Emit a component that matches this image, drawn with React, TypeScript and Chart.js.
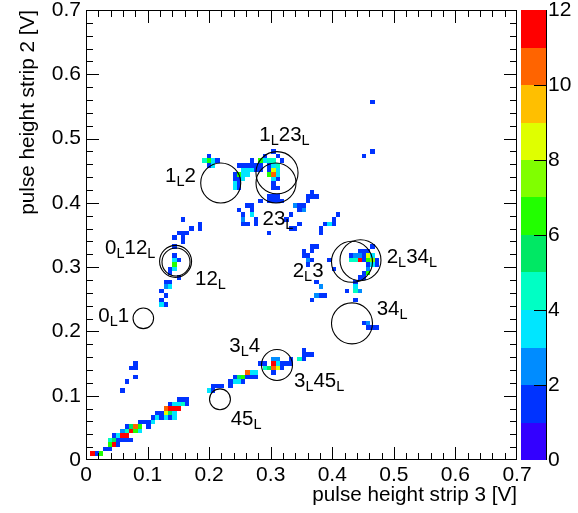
import { useEffect, useRef } from "react";
import { Chart, registerables } from "chart.js";

Chart.register(...registerables);

const FONT = "'Liberation Sans', Arial, Helvetica, sans-serif";

// 2D histogram: 100 x 100 bins over 0..0.7 V, bin width 0.007 V
const BIN = 0.007;
type Cell = [number, number, number]; // [bin index strip 3, bin index strip 2, entries]

const cellsLowBand: Cell[] = [
  [1, 1, 12], [2, 1, 1], [3, 1, 6],
  [4, 2, 1], [5, 2, 1],
  [5, 3, 6], [6, 3, 12], [7, 3, 1], [5, 4, 4], [6, 4, 5], [7, 4, 1],
  [6, 5, 1], [7, 5, 3], [8, 5, 12], [9, 5, 11], [8, 4, 1], [9, 4, 1], [10, 4, 1],
  [8, 6, 2], [9, 6, 4], [10, 6, 12], [11, 6, 6], [12, 6, 3],
  [9, 7, 1], [10, 7, 5], [11, 7, 10], [12, 7, 6],
  [12, 8, 1], [13, 8, 1],
  [14, 7, 1], [14, 8, 1], [15, 8, 3], [15, 9, 1],
  [16, 9, 3], [17, 9, 1], [18, 9, 3], [19, 9, 1], [20, 9, 3],
  [16, 10, 1], [17, 10, 1], [18, 10, 8], [19, 10, 5], [20, 10, 3],
  [18, 11, 10], [19, 11, 12], [20, 11, 12], [21, 11, 11],
  [19, 12, 1], [20, 12, 3], [21, 12, 3], [22, 12, 4], [23, 12, 1],
  [21, 13, 1], [22, 13, 1], [23, 13, 1],
];
const cellsLowIsolated: Cell[] = [
  [8, 15, 1], [9, 17, 1], [11, 18, 1], [10, 20, 1], [11, 20, 1], [11, 21, 1],
];
const cells45: Cell[] = [
  [28, 15, 3], [29, 15, 1], [29, 16, 1], [30, 16, 1], [31, 16, 1],
  [33, 16, 1], [33, 17, 1], [34, 17, 3], [34, 18, 1], [35, 17, 3], [36, 17, 1],
  [35, 18, 5], [36, 18, 6], [37, 18, 1], [38, 18, 1], [37, 19, 10], [38, 19, 3], [39, 19, 3], [39, 18, 1],
];
const cells3L45L: Cell[] = [
  [40, 21, 1], [41, 21, 1], [43, 22, 2], [44, 22, 2], [43, 21, 12], [44, 21, 3], [45, 21, 1], [46, 21, 1],
  [47, 21, 1], [47, 22, 1],
  [41, 20, 4], [42, 20, 5], [43, 20, 10], [44, 20, 8], [45, 20, 1], [43, 19, 1],
  [49, 22, 4], [50, 22, 1], [50, 23, 1], [51, 23, 1], [52, 23, 1], [50, 24, 1],
];
const cells0L12L: Cell[] = [
  [22, 53, 1], [24, 51, 1], [26, 52, 1], [26, 51, 1], [23, 50, 1], [21, 50, 1], [22, 50, 1], [22, 49, 1],
  [20, 49, 1], [22, 48, 1],
  [20, 47, 1], [20, 45, 1], [20, 44, 3], [21, 44, 1], [20, 43, 6], [20, 42, 3], [19, 42, 1], [19, 41, 1],
  [21, 40, 1], [18, 39, 1], [19, 39, 1], [18, 38, 2], [19, 38, 3], [17, 37, 1], [18, 36, 1], [17, 35, 1],
  [17, 34, 3], [18, 34, 1],
];
const cells1L2: Cell[] = [
  [28, 67, 1], [27, 66, 4], [28, 66, 6], [29, 66, 3], [30, 66, 1], [28, 65, 1], [29, 65, 3],
  [34, 63, 1], [34, 62, 1], [34, 61, 3], [35, 61, 1], [34, 60, 3], [35, 60, 1],
  [35, 65, 1], [36, 65, 1], [37, 65, 1], [38, 65, 1], [38, 66, 1], [36, 64, 3], [37, 64, 3], [38, 64, 3],
  [39, 64, 1], [35, 63, 6], [36, 63, 3], [37, 63, 3], [35, 62, 1], [36, 62, 3],
];
const cells1L23L: Cell[] = [
  [43, 68, 1], [40, 66, 6], [41, 66, 3], [42, 66, 4], [43, 66, 4], [44, 67, 1], [45, 66, 1], [41, 67, 1],
  [39, 65, 1], [40, 65, 1], [42, 65, 1], [43, 65, 3], [44, 65, 4],
  [40, 64, 1], [42, 64, 1], [43, 64, 8], [44, 64, 3],
  [42, 63, 6], [43, 63, 10], [44, 63, 3],
  [43, 62, 3], [44, 62, 1], [43, 61, 1], [43, 60, 1], [44, 60, 1],
  [42, 58, 1], [43, 58, 1], [44, 58, 1], [42, 57, 1], [43, 57, 1], [44, 57, 1], [45, 57, 1], [40, 57, 1],
  [37, 56, 1], [38, 56, 1],
];
const cells23L: Cell[] = [
  [35, 55, 1], [38, 55, 1], [36, 54, 1], [38, 54, 3], [36, 53, 2], [39, 53, 1], [39, 52, 1], [36, 52, 1],
  [37, 52, 1], [42, 50, 1],
  [47, 54, 1], [46, 53, 1], [47, 51, 1], [48, 51, 1], [49, 52, 1],
  [48, 56, 2], [49, 56, 1], [50, 56, 1], [49, 55, 1], [50, 55, 2], [51, 57, 1], [51, 58, 1], [52, 59, 1],
  [52, 58, 1], [53, 58, 1],
  [54, 51, 1], [55, 52, 1], [56, 52, 3], [57, 53, 1], [58, 54, 1], [57, 52, 1], [54, 50, 1],
  [66, 79, 1], [66, 68, 1], [64, 67, 1],
];
const cells2L3: Cell[] = [
  [52, 47, 1], [53, 47, 1], [50, 46, 1], [52, 46, 1], [50, 45, 1], [51, 45, 1], [51, 44, 2], [52, 44, 1],
  [51, 43, 1], [56, 44, 1], [57, 42, 1],
  [53, 39, 1], [54, 38, 2], [53, 36, 2], [54, 36, 1], [55, 36, 1], [52, 35, 1],
];
const cells2L34L: Cell[] = [
  [61, 45, 1], [62, 45, 2], [63, 45, 2], [64, 45, 1], [65, 45, 8], [66, 45, 3],
  [61, 44, 4], [62, 44, 4], [63, 44, 12], [64, 44, 1], [65, 44, 6], [66, 44, 7], [67, 44, 1],
  [66, 43, 3], [67, 43, 1], [65, 43, 1], [65, 42, 2],
  [64, 41, 1], [65, 41, 6], [63, 40, 1], [64, 40, 1], [62, 39, 1], [62, 38, 3], [62, 37, 4], [63, 37, 2],
  [60, 37, 1], [62, 35, 1],
  [63, 46, 1], [64, 46, 1], [65, 46, 1], [66, 47, 1],
];
const cells34L: Cell[] = [
  [64, 30, 1], [65, 30, 2], [65, 29, 1], [66, 29, 1], [67, 29, 1],
];

const allCells: Cell[] = [
  ...cellsLowBand, ...cellsLowIsolated, ...cells45, ...cells3L45L, ...cells0L12L,
  ...cells1L2, ...cells1L23L, ...cells23L, ...cells2L3, ...cells2L34L, ...cells34L,
];

// colour palette: 12 contour levels from 0 to 12
const paletteColors = [
  "#3300ff", "#0033ff", "#008cff", "#00e6ff", "#00ffc4", "#00e864",
  "#22ff00", "#80ff00", "#dfff00", "#ffbf00", "#ff6400", "#ff0000",
];
const zMin = 0;
const zMax = 12;
const zTickStep = 2;

// circles (TEllipse): centre and radius in volts
const circleX = [0.2176, 0.3102, 0.0931, 0.1455, 0.1462, 0.2188, 0.3102, 0.3086, 0.4320, 0.4458, 0.4320];
const circleY = [0.0944, 0.1478, 0.2204, 0.3090, 0.3080, 0.4309, 0.4469, 0.4309, 0.3083, 0.3108, 0.2126];
const circleR = [0.0170, 0.0252, 0.0167, 0.0260, 0.0228, 0.0325, 0.0342, 0.0325, 0.0333, 0.0333, 0.0333];

// text labels ("_X" = subscript X), anchored at left/baseline in volts
const labelTexts = ["1_L23_L", "1_L2", "23_L", "0_L12_L", "12_L", "0_L1", "2_L3", "2_L34_L", "34_L", "3_L4", "3_L45_L", "45_L"];
const labelX = [0.2814, 0.1283, 0.2867, 0.0309, 0.1770, 0.0200, 0.3357, 0.4884, 0.4721, 0.2327, 0.3378, 0.2350];
const labelY = [0.4967, 0.4324, 0.3655, 0.3204, 0.2722, 0.2151, 0.2851, 0.3069, 0.2256, 0.1685, 0.1140, 0.0544];

const colorFor = (n: number) => paletteColors[Math.max(0, Math.min(paletteColors.length - 1, Math.floor(n)))];

function drawLatex(ctx: CanvasRenderingContext2D, text: string, x: number, y: number) {
  let cx = x;
  let i = 0;
  ctx.textAlign = "left";
  ctx.textBaseline = "alphabetic";
  ctx.fillStyle = "#000";
  while (i < text.length) {
    if (text[i] === "_") {
      const ch = text[i + 1];
      ctx.font = `14.5px ${FONT}`;
      ctx.fillText(ch, cx, y + 4);
      cx += ctx.measureText(ch).width;
      i += 2;
    } else {
      const ch = text[i];
      ctx.font = `20.5px ${FONT}`;
      ctx.fillText(ch, cx, y);
      cx += ctx.measureText(ch).width;
      i += 1;
    }
  }
}

const cellsPlugin = {
  id: "cells",
  beforeDatasetsDraw(chart: any) {
    const { ctx, chartArea: a, scales } = chart;
    const xs = scales.x;
    const ys = scales.y;
    ctx.save();
    ctx.beginPath();
    ctx.rect(a.left, a.top, a.right - a.left, a.bottom - a.top);
    ctx.clip();
    for (const [i, j, n] of allCells) {
      const x0 = Math.round(xs.getPixelForValue(i * BIN));
      const x1 = Math.round(xs.getPixelForValue((i + 1) * BIN));
      const y0 = Math.round(ys.getPixelForValue(j * BIN));
      const y1 = Math.round(ys.getPixelForValue((j + 1) * BIN));
      ctx.fillStyle = colorFor(n);
      ctx.fillRect(x0, y1, x1 - x0, y0 - y1);
    }
    ctx.restore();
  },
};

const framePlugin = {
  id: "frame",
  afterDatasetsDraw(chart: any) {
    const { ctx, chartArea: a, scales } = chart;
    const xs = scales.x;
    const ys = scales.y;
    const zs = scales.y2;
    ctx.save();
    ctx.fillStyle = "#000";
    const L = Math.round(a.left);
    const R = Math.round(a.right) - 1;
    const T = Math.round(a.top);
    const B = Math.round(a.bottom) - 1;
    // frame
    ctx.fillRect(L, T, R - L + 1, 1);
    ctx.fillRect(L, B, R - L + 1, 1);
    ctx.fillRect(L, T, 1, B - T + 1);
    ctx.fillRect(R, T, 1, B - T + 1);
    // ticks on all four sides
    for (let k = 1; k < 35; k++) {
      const v = k * 0.02;
      const len = k % 5 === 0 ? 13 : 7;
      const px = Math.round(xs.getPixelForValue(v));
      ctx.fillRect(px, B - len + 1, 1, len);
      ctx.fillRect(px, T, 1, len);
      const py = Math.round(ys.getPixelForValue(v));
      ctx.fillRect(L, py, len, 1);
      ctx.fillRect(R - len + 1, py, len, 1);
    }

    // colour bar
    const cx0 = Math.round(a.right) + 4;
    const cx1 = Math.round(a.right) + 29;
    for (let l = 0; l < paletteColors.length; l++) {
      const yTop = Math.round(zs.getPixelForValue(zMin + l + 1));
      const yBot = Math.round(zs.getPixelForValue(zMin + l));
      ctx.fillStyle = paletteColors[l];
      ctx.fillRect(cx0, yTop, cx1 - cx0, yBot - yTop);
    }
    ctx.fillStyle = "#000";
    const zTop = Math.round(zs.getPixelForValue(zMax));
    const zBot = Math.round(zs.getPixelForValue(zMin));
    ctx.fillRect(cx1, zTop, 1, zBot - zTop);
    for (let t = zMin + zTickStep; t < zMax; t += zTickStep) {
      const py = Math.round(zs.getPixelForValue(t));
      ctx.fillRect(cx1 - 12, py, 13, 1);
    }

    // labels
    for (let k = 0; k < labelTexts.length; k++) {
      drawLatex(ctx, labelTexts[k], xs.getPixelForValue(labelX[k]), ys.getPixelForValue(labelY[k]));
    }
    ctx.restore();
  },
};

const fmt = (v: number) => (Math.abs(v) < 1e-9 ? "0" : Number(v).toFixed(1));

export default function App() {
  const ref = useRef<HTMLCanvasElement | null>(null);
  useEffect(() => {
    if (!ref.current) return;
    const circles = circleX.map((x, k) => ({ x, y: circleY[k], r: circleR[k] }));
    const radiusPx = (c: any) => {
      const xs = c.chart.scales.x;
      const r = c.raw && c.raw.r ? c.raw.r : 0;
      return Math.abs(xs.getPixelForValue(r) - xs.getPixelForValue(0));
    };
    const tickFont = { family: FONT, size: 21, lineHeight: 0.9 };
    const titleFont = { family: FONT, size: 20.7 };
    const chart = new Chart(ref.current, {
      type: "scatter",
      data: {
        datasets: [
          {
            data: circles,
            pointStyle: "circle",
            backgroundColor: "rgba(0,0,0,0)",
            borderColor: "#000",
            borderWidth: 1.1,
            pointRadius: radiusPx,
            pointHoverRadius: radiusPx,
          } as any,
        ],
      },
      options: {
        responsive: false,
        animation: false,
        devicePixelRatio: 1,
        events: [],
        plugins: { legend: { display: false }, tooltip: { enabled: false } },
        layout: { padding: { top: 10, left: 0, right: 0, bottom: 0 } },
        scales: {
          x: {
            type: "linear",
            min: 0,
            max: 0.7,
            afterFit: (s: any) => { s.height = 53; },
            grid: { display: false, drawTicks: true, tickLength: 3 },
            border: { display: false },
            ticks: {
              stepSize: 0.1, autoSkip: false, maxRotation: 0, minRotation: 0, padding: 0, color: "#000",
              font: { family: FONT, size: 21, lineHeight: 1.2 }, callback: (v: any) => fmt(Number(v)),
            },
            title: {
              display: true, text: "pulse height strip 3 [V]", align: "end", color: "#000",
              font: titleFont, padding: { top: 0, bottom: 5 },
            },
          },
          y: {
            type: "linear",
            min: 0,
            max: 0.7,
            afterFit: (s: any) => { s.width = 86; },
            grid: { display: false, drawTicks: true, tickLength: 5 },
            border: { display: false },
            ticks: {
              stepSize: 0.1, autoSkip: false, padding: 0, color: "#000",
              font: tickFont, callback: (v: any) => fmt(Number(v)),
            },
            title: {
              display: true, text: "pulse height strip 2 [V]", align: "end", color: "#000",
              font: titleFont, padding: { top: 16, bottom: 0 },
            },
          },
          y2: {
            type: "linear",
            axis: "y",
            position: "right",
            min: zMin,
            max: zMax,
            afterFit: (s: any) => { s.width = 61; },
            grid: { display: false, drawTicks: true, tickLength: 31 },
            border: { display: false },
            ticks: { stepSize: zTickStep, autoSkip: false, padding: 0, color: "#000", font: tickFont },
          } as any,
        },
      },
      plugins: [cellsPlugin, framePlugin],
    });
    return () => chart.destroy();
  }, []);
  return (
    <div style={{ position: "absolute", left: 0, top: 0, width: 578, height: 513, background: "#fff" }}>
      <canvas ref={ref} width={578} height={513} />
    </div>
  );
}
